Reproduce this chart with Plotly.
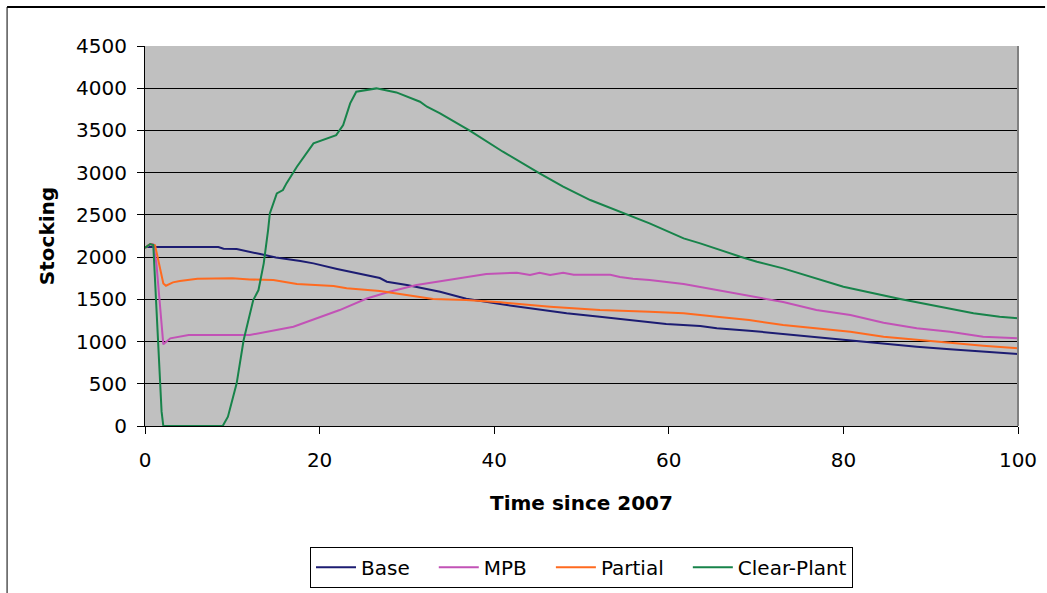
import plotly.graph_objects as go

# Stocking trajectories over 100 years for four management scenarios
base_t = [0, 8.4, 9, 10.5, 13.2, 15, 17.8, 19.3, 22, 25, 26.9, 27.7, 30, 33.8, 36.8, 40.7,
          44.5, 48.3, 52.1, 55.9, 59.7, 63.6, 65.5, 69.2, 73.1, 76.9, 80.8, 84.6, 88.4,
          92.2, 96, 100]
base_v = [2120, 2120, 2100, 2095, 2036, 1995, 1953, 1926, 1860, 1795, 1752, 1709, 1670,
          1590, 1507, 1444, 1393, 1334, 1294, 1247, 1208, 1184, 1157, 1129, 1089, 1050,
          1018, 971, 939, 908, 880, 852]

mpb_t = [0, 0.6, 0.95, 1.3, 2.1, 2.9, 5, 12, 17, 19.7, 22.3, 25.4, 28, 31.1, 35.7, 39.1,
         42.6, 44.1, 45.2, 46.4, 47.9, 49.1, 53.3, 54.4, 55.9, 57.8, 61.7, 65.5, 69.2,
         73.1, 76.9, 80.8, 84.6, 88.4, 92.2, 96, 100]
mpb_v = [2110, 2155, 2150, 1930, 967, 1038, 1077, 1077, 1176, 1275, 1373, 1510, 1590,
         1669, 1740, 1800, 1815, 1788, 1815, 1788, 1815, 1792, 1792, 1764, 1745, 1729,
         1681, 1610, 1539, 1468, 1373, 1314, 1223, 1157, 1117, 1057, 1038]

partial_t = [0, 0.6, 1.15, 1.7, 2.1, 2.4, 3.2, 4, 6, 10, 12, 14.7, 17.4, 21.6, 23.1, 26.9,
             30.4, 33, 36.8, 40.7, 46.4, 52.1, 57.8, 61.7, 65.5, 69.2, 73.1, 76.9, 80.8,
             84.6, 88.4, 92.2, 96, 100]
partial_v = [2110, 2155, 2140, 1886, 1689, 1661, 1701, 1717, 1745, 1749, 1735, 1729, 1681,
             1657, 1630, 1598, 1543, 1504, 1492, 1464, 1413, 1374, 1353, 1334, 1294, 1255,
             1196, 1157, 1117, 1057, 1018, 986, 951, 920]

clear_t = [0, 0.6, 0.95, 1.72, 1.9, 2.1, 8.9, 9.5, 10.5, 11.3, 12.4, 13, 13.6, 14.1, 14.3,
           15.1, 15.8, 16.2, 17.4, 19.3, 21.9, 22.7, 23.5, 24.2, 26.5, 28.8, 31.5, 32.3,
           33.8, 37.2, 41, 45.2, 47.9, 51, 54.4, 57.8, 61.7, 63.6, 68.2, 70.1, 73.1, 76.2,
           80, 86.5, 94.9, 97.9, 100]
clear_v = [2110, 2155, 2143, 505, 170, 0, 0, 110, 505, 1018, 1492, 1610, 1926, 2320, 2518,
           2755, 2794, 2873, 3070, 3347, 3445, 3564, 3821, 3958, 3998, 3950, 3840, 3781,
           3702, 3497, 3248, 2992, 2834, 2676, 2538, 2400, 2222, 2163, 2005, 1946, 1867,
           1768, 1650, 1504, 1334, 1294, 1275]

series = [
    ("Base", base_t, base_v, "#1c1c72"),
    ("MPB", mpb_t, mpb_v, "#c252b6"),
    ("Partial", partial_t, partial_v, "#ff6a1f"),
    ("Clear-Plant", clear_t, clear_v, "#17834a"),
]

x_ticks = [0, 20, 40, 60, 80, 100]
y_ticks = [0, 500, 1000, 1500, 2000, 2500, 3000, 3500, 4000, 4500]

FONT = "DejaVu Sans, sans-serif"
LEGEND_PAD = "\u00a0" * 3  # extra spacing between legend entries

fig = go.Figure()
for i, (name, t, v, color) in enumerate(series):
    label = name + (LEGEND_PAD if i < len(series) - 1 else "")
    fig.add_trace(go.Scatter(x=t, y=v, mode="lines", name=label,
                             line=dict(color=color, width=2)))

fig.update_layout(
    width=1047, height=593,
    margin=dict(l=145, r=29, t=46, b=167, autoexpand=False),
    paper_bgcolor="white",
    plot_bgcolor="#c0c0c0",
    font=dict(family=FONT, size=20, color="black"),
    showlegend=True,
    legend=dict(orientation="h", x=0.5, xanchor="center", y=-0.318, yanchor="top",
                bordercolor="black", borderwidth=1, bgcolor="white",
                font=dict(size=20), itemwidth=40, tracegroupgap=0),
    xaxis=dict(range=[0, 100], tickvals=x_ticks, ticks="outside", ticklen=7,
               tickcolor="black", showline=True, linecolor="black", linewidth=1,
               showgrid=False, zeroline=False, mirror=False, ticklabelstandoff=9,
               automargin=False,
               title=dict(text="<b>Time since 2007</b>", font=dict(size=20), standoff=24)),
    yaxis=dict(range=[0, 4500], tickvals=y_ticks, ticks="outside", ticklen=7,
               tickcolor="black", showline=True, linecolor="black", linewidth=1,
               showgrid=True, gridcolor="black", gridwidth=1, zeroline=False,
               ticklabelstandoff=6, automargin=False,
               title=dict(text="<b>Stocking</b>", font=dict(size=20), standoff=16)),
    shapes=[
        # outer chart frame (left and top edges)
        dict(type="line", xref="paper", yref="paper", x0=-0.158, x1=-0.158,
             y0=-0.45, y1=1.1026, line=dict(color="black", width=1)),
        dict(type="line", xref="paper", yref="paper", x0=-0.158, x1=1.031,
             y0=1.1026, y1=1.1026, line=dict(color="black", width=2)),
        # plot area right edge
        dict(type="line", xref="paper", yref="paper", x0=1, x1=1, y0=0, y1=1,
             line=dict(color="#808080", width=2)),
    ],
)

fig.write_html("out.html")
